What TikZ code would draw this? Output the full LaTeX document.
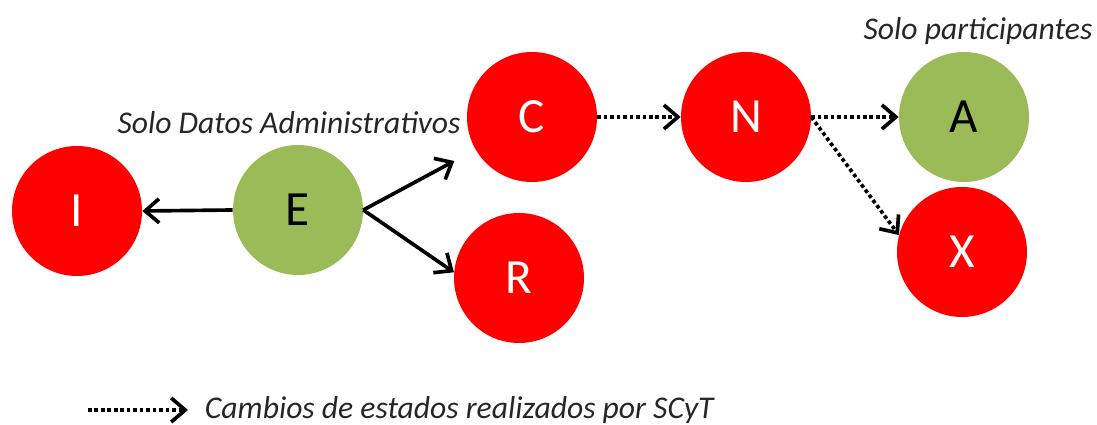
\documentclass[tikz,border=0pt]{standalone}
\usepackage{fontspec}
\setmainfont{Carlito}
\usepackage{xcolor}
\usepackage{tikz}
\usetikzlibrary{arrows.meta}

\definecolor{rojo}{RGB}{255,0,0}
\definecolor{verde}{RGB}{155,187,89}

\tikzset{
  estado/.style={circle, minimum size=3.25cm, inner sep=0pt, font=\fontsize{35}{35}\selectfont},
  rojo/.style={estado, fill=rojo, text=white},
  verde/.style={estado, fill=verde, text=black},
  flecha/.style={line width=2.6pt, -{Straight Barb[length=3.5mm,width=6mm,line width=2.6pt]}},
  punteada/.style={flecha, dash pattern=on 2.6pt off 2pt},
  nota/.style={font=\fontsize{22.5}{22.5}\selectfont\itshape, text=black!85}
}

\begin{document}
\begin{tikzpicture}
\useasboundingbox (0,0) rectangle (27.425,10.625);
% estados
\node [rojo] (I) at (1.925,5.35) {I};
\node [verde] (E) at (7.45,5.375) {E};
\node [rojo] (C) at (13.3,7.7) {C};
\node [rojo] (R) at (12.975,3.675) {R};
\node [rojo] (N) at (18.65,7.7) {N};
\node [verde] (A) at (24.1,7.7) {A};
\node [rojo] (X) at (24.05,4.325) {X};
% notas
\node [nota] (datos) at (7.225,7.55) {Solo Datos Administrativos};
\node [nota] (part) at (24.45,9.85) {Solo participantes};
% transiciones
\draw [flecha] (E.west) -- (I.east);
\draw [flecha, shorten >=0.6cm] (E.east) -- (C.210);
\draw [flecha] (E.east) -- (R.175);
\draw [punteada] (C.east) -- (N.west);
\draw [punteada] (N.east) -- (A.west);
\draw [punteada] (N.east) -- (X.165);
% leyenda
\coordinate (leyA) at (2.2,0.375);
\coordinate (leyB) at (4.7,0.375);
\draw [punteada] (leyA) -- (leyB);
\node [nota, right] (leyenda) at (5.0,0.375) {Cambios de estados realizados por SCyT};
\end{tikzpicture}
\end{document}
